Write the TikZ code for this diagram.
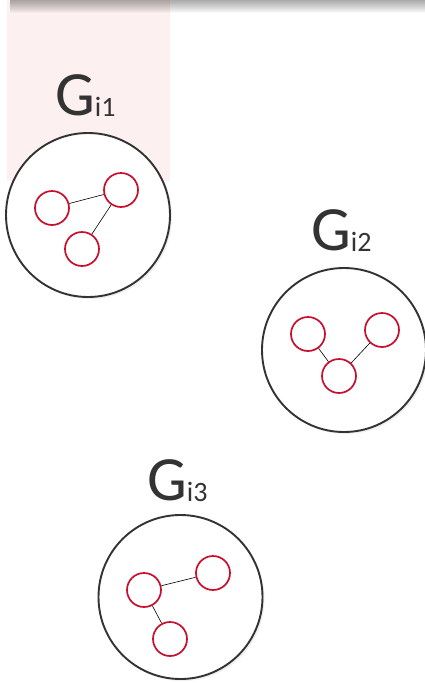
\documentclass[tikz,border=0pt]{standalone}
\usepackage{fontspec}
\setmainfont{Carlito}
\usetikzlibrary{shadows}
\definecolor{ringred}{HTML}{C8102E}
\definecolor{inkgray}{HTML}{333333}
\definecolor{bandpink}{HTML}{FCF1F0}
\begin{document}
\begin{tikzpicture}[x=1pt,y=-1pt,
  graphbox/.style={circle,draw=inkgray,line width=1.9pt,fill=white,minimum size=164pt,inner sep=0pt,
    drop shadow={opacity=0.12,shadow xshift=2pt,shadow yshift=-2pt}},
  vtx/.style={circle,draw=ringred,line width=1.7pt,fill=white,minimum size=34pt,inner sep=0pt},
  link/.style={draw=black,line width=0.6pt},
  glabel/.style={anchor=base west,inner sep=0pt,text=inkgray,font=\fontsize{63}{63}\selectfont}]
\useasboundingbox (0,0) rectangle (425,683);
\fill[white] (0,0) rectangle (425,683);
% highlighted column
\fill[bandpink] (7,0) rectangle (170,181);
% soft shadow band along the top edge
\foreach \h in {1,2,...,13}{
  \fill[black,opacity=0.028] (10,0) rectangle (425,\h);
}

% graph G_i1
\node[graphbox] (c1) at (88,215) {};
\node[glabel] (l1) at (55,115) {G\raisebox{-1pt}{\fontsize{28}{28}\selectfont i1}};
\node[vtx] (a1) at (52,208) {};
\node[vtx] (b1) at (121,190) {};
\node[vtx] (d1) at (82,249) {};
\draw[link] (a1) -- (b1);
\draw[link] (b1) -- (d1);

% graph G_i2
\node[graphbox] (c2) at (344,350) {};
\node[glabel] (l2) at (311,250) {G\raisebox{-1pt}{\fontsize{28}{28}\selectfont i2}};
\node[vtx] (a2) at (308,334) {};
\node[vtx] (b2) at (382,330) {};
\node[vtx] (d2) at (339,376) {};
\draw[link] (a2) -- (d2);
\draw[link] (d2) -- (b2);

% graph G_i3
\node[graphbox] (c3) at (180.5,597) {};
\node[glabel] (l3) at (147,500) {G\raisebox{-1pt}{\fontsize{28}{28}\selectfont i3}};
\node[vtx] (a3) at (144,590) {};
\node[vtx] (b3) at (213,573) {};
\node[vtx] (d3) at (170,639) {};
\draw[link] (a3) -- (b3);
\draw[link] (a3) -- (d3);
\end{tikzpicture}
\end{document}
